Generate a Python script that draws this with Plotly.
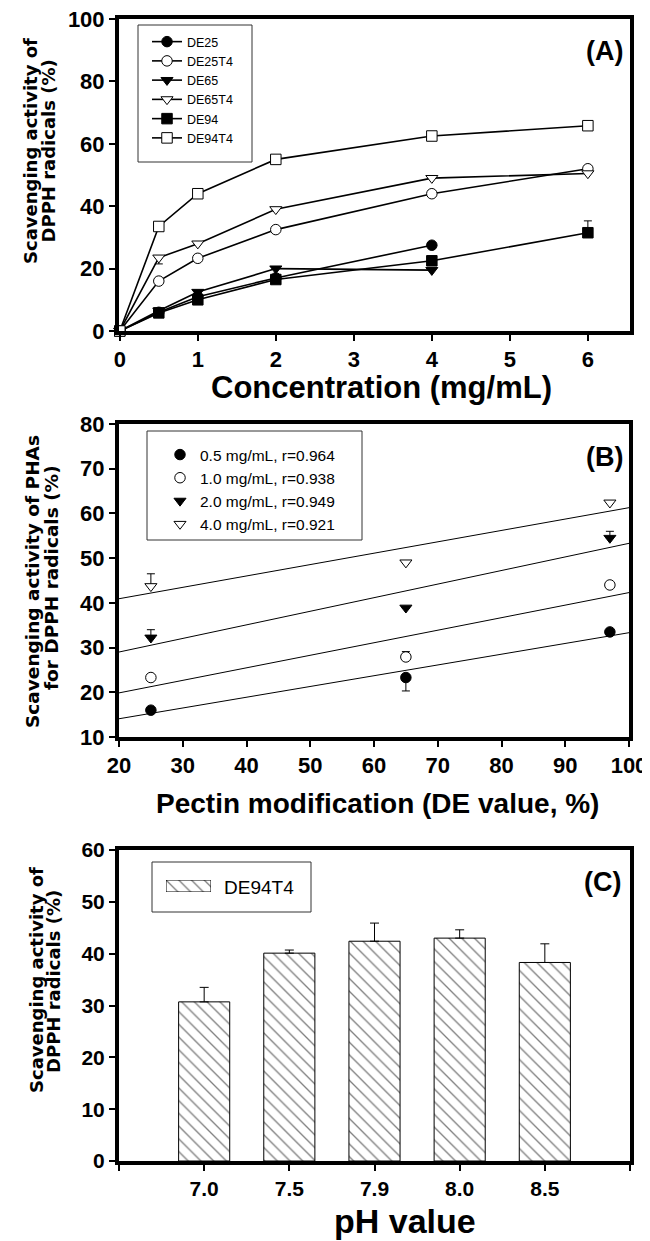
import numpy as np
import plotly.graph_objects as go

# The page shows the figure with an 8 px body margin, so the figure is made
# 8 px smaller and every position below is given in window pixels.
OFF = 8
W, H = 650 - OFF, 1241 - OFF

# ---------------- Panel A data ----------------
conc = [0, 0.5, 1, 2, 4, 6]
names_A = ["DE25", "DE25T4", "DE65", "DE65T4", "DE94", "DE94T4"]
DE25 = [0, 6.0, 11.0, 17.0, 27.5]
DE25T4 = [0, 16.0, 23.3, 32.5, 44.0, 52.0]
DE65 = [0, 6.5, 12.5, 20.0, 19.5]
DE65T4 = [0, 23.5, 28.0, 39.0, 49.0, 50.5]
DE94 = [0, 5.8, 10.0, 16.5, 22.5, 31.5]
DE94T4 = [0, 33.5, 44.0, 55.0, 62.5, 65.8]
DE94_err_up = [None, None, None, None, 1.5, 3.8]
DE65T4_err_dn = [None, 2.0, None, None, None, None]

# ---------------- Panel B data ----------------
de_value = [25, 65, 97]
labels_B = ["0.5 mg/mL, r=0.964", "1.0 mg/mL, r=0.938",
            "2.0 mg/mL, r=0.949", "4.0 mg/mL, r=0.921"]
c05 = [16.0, 23.3, 33.5]
c10 = [23.3, 27.9, 44.0]
c20 = [32.2, 38.9, 54.5]
c40 = [43.7, 49.0, 62.4]
c05_err_up = [None, 0, None]
c05_err_dn = [None, 3.0, None]
c10_err_up = [None, 1.2, None]
c20_err_up = [1.8, None, 1.5]
c40_err_up = [2.8, None, None]

# ---------------- Panel C data ----------------
ph_labels = ["7.0", "7.5", "7.9", "8.0", "8.5"]
ph_values = [30.7, 40.1, 42.4, 43.0, 38.3]
ph_err = [2.8, 0.6, 3.5, 1.6, 3.6]
legend_C = "DE94T4"

FONT = "Arial"
YFONT = "DejaVu Sans"


def px_x(x):
    return (x - OFF) / W


def px_y(y):
    return 1 - (y - OFF) / H


def zeros_like(v):
    return [0 if e is not None else None for e in v]


fig = go.Figure()

# Panel A traces
styles_A = {
    "DE25": ("circle", "black"),
    "DE25T4": ("circle", "white"),
    "DE65": ("triangle-down", "black"),
    "DE65T4": ("triangle-down", "white"),
    "DE94": ("square", "black"),
    "DE94T4": ("square", "white"),
}
data_A = {"DE25": DE25, "DE25T4": DE25T4, "DE65": DE65, "DE65T4": DE65T4,
          "DE94": DE94, "DE94T4": DE94T4}
for nm in names_A:
    ys = data_A[nm]
    sym, fill = styles_A[nm]
    err = None
    if nm == "DE94":
        err = dict(type="data", array=DE94_err_up, arrayminus=zeros_like(DE94_err_up),
                   symmetric=False, color="black", thickness=1, width=4)
    if nm == "DE65T4":
        err = dict(type="data", arrayminus=DE65T4_err_dn, array=zeros_like(DE65T4_err_dn),
                   symmetric=False, color="black", thickness=1, width=4)
    fig.add_trace(go.Scatter(
        x=conc[:len(ys)], y=ys, name=nm, mode="lines+markers",
        line=dict(color="black", width=1.6),
        marker=dict(symbol=sym, size=10.5, color=fill,
                    line=dict(color="black", width=1)),
        error_y=err, cliponaxis=False,
        xaxis="x", yaxis="y", legend="legend"))

# Panel B traces
data_B = [c05, c10, c20, c40]
sym_B = [("circle", "black"), ("circle", "white"),
         ("triangle-down", "black"), ("triangle-down", "white")]
err_B = [(c05_err_up, c05_err_dn), (c10_err_up, None),
         (c20_err_up, None), (c40_err_up, None)]
xr_B = [20, 100]
for ys, lab, (sym, fill), (eu, ed) in zip(data_B, labels_B, sym_B, err_B):
    k, b = np.polyfit(de_value, ys, 1)  # linear regression as in the original
    xl = np.array(xr_B, dtype=float)
    fig.add_trace(go.Scatter(
        x=xl, y=k * xl + b, mode="lines", showlegend=False,
        line=dict(color="black", width=1), xaxis="x2", yaxis="y2",
        hoverinfo="skip"))
    if ed is None:
        ed = zeros_like(eu)
    err = dict(type="data", array=eu, arrayminus=ed, symmetric=False,
               color="black", thickness=1, width=4)
    fig.add_trace(go.Scatter(
        x=de_value, y=ys, name=lab, mode="markers",
        marker=dict(symbol=sym, size=10.5, color=fill,
                    line=dict(color="black", width=1)),
        error_y=err, xaxis="x2", yaxis="y2", legend="legend2"))

# Panel C trace
hatch = dict(shape="\\", fgcolor="black", bgcolor="white", size=9, solidity=0.15)
fig.add_trace(go.Bar(
    x=list(range(len(ph_labels))), y=ph_values, width=0.6, name=legend_C,
    marker=dict(color="white", line=dict(color="black", width=1), pattern=hatch),
    error_y=dict(type="data", array=ph_err, arrayminus=[0] * len(ph_err),
                 symmetric=False, color="black", thickness=1, width=4.5),
    xaxis="x3", yaxis="y3", showlegend=False))
# legend swatch for panel C (hatched box drawn on its own small axis)
fig.add_trace(go.Bar(
    x=[legend_C], y=[1], width=1, name=legend_C, showlegend=False,
    marker=dict(color="white", line=dict(color="black", width=1), pattern=hatch),
    xaxis="x4", yaxis="y4", hoverinfo="skip"))


def axis(size, **kw):
    d = dict(showline=True, linewidth=4, linecolor="black", mirror=True,
             ticks="outside", ticklen=6, tickwidth=2, tickcolor="black",
             showgrid=False, zeroline=False, automargin=False,
             ticklabeloverflow="allow",
             tickfont=dict(family=FONT, size=size, color="black", weight="bold"))
    d.update(kw)
    return d


hidden = dict(visible=False, showgrid=False, zeroline=False, automargin=False,
              fixedrange=True)

fig.update_layout(
    width=W, height=H, margin=dict(l=0, r=0, t=0, b=0, autoexpand=False),
    paper_bgcolor="white", plot_bgcolor="white",
    font=dict(family=FONT, color="black"),
    xaxis=axis(22, domain=[px_x(119), px_x(630)], range=[-0.01, 6.54],
               tickvals=[0, 1, 2, 3, 4, 5, 6], anchor="y"),
    yaxis=axis(22, domain=[px_y(331), px_y(19)], range=[0, 100],
               tickvals=[0, 20, 40, 60, 80, 100], anchor="x"),
    xaxis2=axis(22, domain=[px_x(119), px_x(629)], range=xr_B,
                tickvals=list(range(20, 101, 10)), anchor="y2"),
    yaxis2=axis(22, domain=[px_y(737), px_y(424)], range=[10, 80],
                tickvals=list(range(10, 81, 10)), anchor="x2"),
    xaxis3=axis(21, domain=[px_x(119), px_x(630)], range=[-1, 5],
                tickvals=[-1] + list(range(len(ph_labels))) + [5],
                ticktext=[""] + ph_labels + [""], anchor="y3"),
    yaxis3=axis(21, domain=[px_y(1161), px_y(850)], range=[0, 60],
                tickvals=list(range(0, 61, 10)), anchor="x3"),
    xaxis4=dict(domain=[px_x(166), px_x(211)], range=[-0.5, 0.5], anchor="y4",
                type="category", **hidden),
    yaxis4=dict(domain=[px_y(892), px_y(880)], range=[0, 1], anchor="x4", **hidden),
    legend=dict(x=px_x(147), y=px_y(27), xanchor="left", yanchor="top",
                bgcolor="rgba(0,0,0,0)", borderwidth=0,
                font=dict(family=FONT, size=12.5, color="black"),
                tracegroupgap=0),
    legend2=dict(x=px_x(160), y=px_y(438), xanchor="left", yanchor="top",
                 bgcolor="rgba(0,0,0,0)", borderwidth=0,
                 font=dict(family=FONT, size=15.5, color="black"),
                 tracegroupgap=0),
    showlegend=True,
)

# legend boxes
shapes = []
for x0, x1, y0, y1 in [(138, 252, 25, 162), (147, 362, 431, 540), (152, 311, 862, 912)]:
    shapes.append(dict(type="rect", xref="paper", yref="paper",
                       x0=px_x(x0), x1=px_x(x1), y0=px_y(y1), y1=px_y(y0),
                       line=dict(color="#333333", width=1), layer="above"))
fig.update_layout(shapes=shapes)

ann = []
# legend text for panel C
ann.append(dict(text=legend_C, x=px_x(222), y=px_y(887), xref="paper", yref="paper",
                xanchor="left", yanchor="middle", showarrow=False,
                font=dict(family=FONT, size=19, color="black")))
# panel labels
for txt, xc, yc in [("(A)", 604, 51), ("(B)", 604, 457), ("(C)", 602, 882)]:
    ann.append(dict(text=txt, x=px_x(xc), y=px_y(yc), xref="paper", yref="paper",
                    xanchor="center", yanchor="middle", showarrow=False,
                    font=dict(family=FONT, size=27, color="black", weight="bold")))
# y titles (two lines each)
ytitles = [
    ("Scavenging activity of", 30, 151, 18), ("DPPH radicals (%)", 47.5, 151, 18),
    ("Scavenging activity of PHAs", 32, 582, 18.5), ("for DPPH radicals (%)", 51, 578, 18.5),
    ("Scavenging activity of", 36, 980, 18), ("DPPH radicals (%)", 53, 981, 18),
]
for txt, xc, yc, fs in ytitles:
    ann.append(dict(text=txt, x=px_x(xc), y=px_y(yc), xref="paper", yref="paper",
                    xanchor="center", yanchor="middle", showarrow=False,
                    textangle=-90,
                    font=dict(family=YFONT, size=fs, color="black", weight="bold")))
# x titles
xtitles = [("Concentration (mg/mL)", 381, 388, 31),
           ("Pectin modification (DE value, %)", 378, 803, 28),
           ("pH value", 405, 1221, 34)]
for txt, xc, yc, fs in xtitles:
    ann.append(dict(text=txt, x=px_x(xc), y=px_y(yc), xref="paper", yref="paper",
                    xanchor="center", yanchor="middle", showarrow=False,
                    font=dict(family=FONT, size=fs, color="black", weight="bold")))
fig.update_layout(annotations=ann)

fig.write_html("out.html")
